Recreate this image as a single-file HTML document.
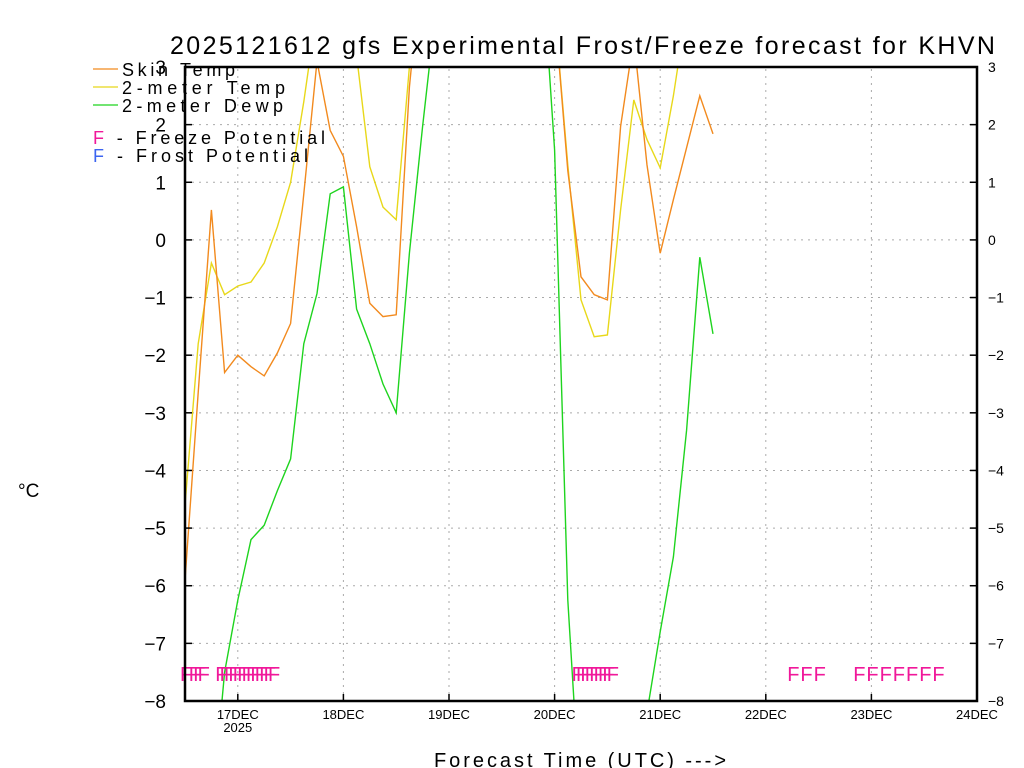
<!DOCTYPE html>
<html><head><meta charset="utf-8"><style>
html,body{margin:0;padding:0;background:#fff;overflow:hidden}
svg{display:block;font-family:"Liberation Sans",sans-serif}
</style></head><body>
<svg id="chart" width="1024" height="768" viewBox="0 0 1024 768" xmlns="http://www.w3.org/2000/svg">
<defs><clipPath id="plotclip"><rect x="185" y="67" width="792" height="634"/></clipPath></defs>
<text x="170" y="54" font-size="25" textLength="825" lengthAdjust="spacing" fill="#000">2025121612 gfs Experimental Frost/Freeze forecast for KHVN</text>
<g id="grid"></g>
<g id="series" clip-path="url(#plotclip)"></g>
<g id="flags"></g>
<g id="axes"></g>
<text x="18" y="497" font-size="19" fill="#000">°C</text>
<text x="434" y="767" font-size="20" textLength="292" lengthAdjust="spacing" fill="#000">Forecast Time (UTC) ---&gt;</text>
<g>
<line x1="93" y1="69" x2="118" y2="69" stroke="#f28a1e" stroke-width="1.3"/>
<text x="122" y="76" font-size="18" textLength="113" lengthAdjust="spacing">Skin Temp</text>
<line x1="93" y1="87" x2="118" y2="87" stroke="#e8d81a" stroke-width="1.3"/>
<text x="122" y="94" font-size="18" textLength="163" lengthAdjust="spacing">2-meter Temp</text>
<line x1="93" y1="105" x2="118" y2="105" stroke="#1ed41e" stroke-width="1.3"/>
<text x="122" y="112" font-size="18" textLength="161" lengthAdjust="spacing">2-meter Dewp</text>
<text x="93" y="144" font-size="18" textLength="232" lengthAdjust="spacing"><tspan fill="#f0189a">F</tspan> - Freeze Potential</text>
<text x="93" y="162" font-size="18" textLength="215" lengthAdjust="spacing"><tspan fill="#3c64f0">F</tspan> - Frost Potential</text>
</g>
</svg>
<script>
const hours = [0,3,6,9,12,15,18,21,24,27,30,33,36,39,42,45,48,51,54,57,60,63,66,69,72,75,78,81,84,87,90,93,96,99,102,105,108,111,114,117,120];
const skinTemp = [-5.9,-2.65,0.52,-2.3,-2.0,-2.2,-2.36,-1.96,-1.45,0.8,3.1,1.9,1.45,0.23,-1.1,-1.33,-1.3,2.65,5,5,5,5,5,5,5,5,5,5,4,1.2,-0.64,-0.95,-1.04,1.97,3.5,1.3,-0.23,0.7,1.6,2.5,1.84];
const temp2m = [-4.6,-1.8,-0.4,-0.95,-0.8,-0.73,-0.4,0.23,1.0,2.4,4,4,4,3.2,1.27,0.57,0.35,3,5,5,5,5,5,5,5,5,5,5,4,1.3,-1.04,-1.68,-1.65,0.52,2.43,1.74,1.25,2.5,4,4,4];
const dewp2m = [-10,-10,-10,-7.5,-6.25,-5.2,-4.95,-4.35,-3.8,-1.8,-0.93,0.8,0.92,-1.2,-1.8,-2.5,-3.0,-0.23,1.97,4,5,5,5,5,5,5,5,5,1.56,-6.25,-10,-10,-10,-10,-10,-8.2,-6.8,-5.5,-3.3,-0.3,-1.63];
const freezeHours = [0,2,3,4,8,9,10,11,12,13,14,15,16,17,18,19,20,89,90,91,92,93,94,95,96,97,138,141,144,153,156,159,162,165,168,171];
const yTicks = [-8,-7,-6,-5,-4,-3,-2,-1,0,1,2,3];
const dayLabels = ["17DEC","18DEC","19DEC","20DEC","21DEC","22DEC","23DEC","24DEC"];
const dayHours = [12,36,60,84,108,132,156,180];

const NS="http://www.w3.org/2000/svg";
const X0=185,X1=977,Y0=701,Y1=67;
function xs(h){return X0+(X1-X0)*h/180;}
function ys(v){return Y0-(Y0-Y1)*(v+8)/11;}
function mk(tag,attrs,parent,txt){const e=document.createElementNS(NS,tag);for(const k in attrs)e.setAttribute(k,attrs[k]);if(txt!==undefined)e.textContent=txt;parent.appendChild(e);return e;}
const grid=document.getElementById('grid'),axes=document.getElementById('axes'),series=document.getElementById('series'),flags=document.getElementById('flags');

yTicks.forEach(v=>{
  const y=ys(v);
  if(v>-8&&v<3){const g=mk('line',{x1:X0,x2:X1,y1:y,y2:y,stroke:'#aaa','stroke-dasharray':'2,5'},grid);
  
  }
  const t=mk('text',{x:166,y:y+7,'font-size':19,'text-anchor':'end'},axes,v<0?'\u2212'+Math.abs(v):String(v));
  
  
  const t2=mk('text',{x:988,y:y+5,'font-size':14},axes,v<0?'\u2212'+Math.abs(v):String(v));
  
  
  mk('line',{x1:X0,x2:X0+7,y1:y,y2:y,stroke:'#000','stroke-width':1.5},axes);
  mk('line',{x1:X1-7,x2:X1,y1:y,y2:y,stroke:'#000','stroke-width':1.5},axes);
});
dayHours.forEach((h,i)=>{
  const x=xs(h);
  if(h<180){const g=mk('line',{x1:x,x2:x,y1:Y0,y2:Y1,stroke:'#aaa','stroke-dasharray':'2,5'},grid);
  
  }
  mk('line',{x1:x,x2:x,y1:Y0,y2:Y0-7,stroke:'#000','stroke-width':1.5},axes);
  const t=mk('text',{x:x,y:719,'font-size':13,'text-anchor':'middle'},axes,dayLabels[i]);
  
  
});
const yr=mk('text',{x:xs(12),y:732,'font-size':13,'text-anchor':'middle'},axes,'2025');


const frame=mk('rect',{x:X0,y:Y1,width:X1-X0,height:Y0-Y1,fill:'none',stroke:'#000','stroke-width':2.5},axes);



function line(vals,color,name){
  const d=vals.map((v,i)=>(i?'L':'M')+xs(hours[i]).toFixed(1)+','+ys(v).toFixed(1)).join(' ');
  const p=mk('path',{d:d,fill:'none',stroke:color,'stroke-width':1.4},series);
  
  
}
line(temp2m,'#e8d81a','temp-2m-line');
line(skinTemp,'#f28a1e','skin-temp-line');
line(dewp2m,'#1ed41e','dewpoint-2m-line');

freezeHours.forEach(h=>{
  const t=mk('text',{x:xs(h)-5,y:681,'font-size':20,fill:'#f0189a'},flags,'F');
  
  
});
</script>
</body></html>
